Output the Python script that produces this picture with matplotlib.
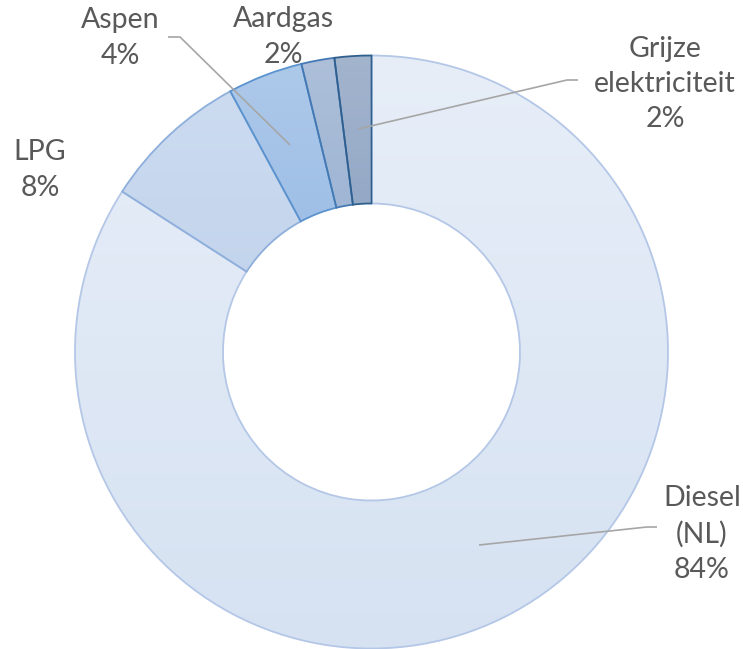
import numpy as np
import matplotlib
matplotlib.use("Agg")
import matplotlib.pyplot as plt
from matplotlib.colors import to_rgb

# aandeel per energiedrager (clockwise vanaf 12 uur)
bronnen = ["Diesel\n(NL)", "LPG", "Aspen", "Aardgas", "Grijze\nelektriciteit"]
aandeel = [84.1, 8.0, 4.1, 1.8, 2.0]
pct_labels = ["84%", "8%", "4%", "2%", "2%"]

# kleuren: boven, onder, rand
KLEUR_BOVEN = ["#E7EEF8", "#CCDBF0", "#ADC9EA", "#ADBFD9", "#A3B4CD"]
KLEUR_ONDER = ["#D6E2F2", "#BFD2EB", "#94B7E3", "#93ADD0", "#869EC0"]
KLEUR_RAND = ["#B4C7E7", "#8EAFDB", "#5B93CF", "#4479B3", "#2F5F8F"]

W, H = 743, 649
fig = plt.figure(figsize=(W / 100, H / 100), dpi=100)
ax = fig.add_axes([0, 0, 1, 1])

cx, cy = 371.5, H - 352
R = 296.5
wedges, _ = ax.pie(aandeel, radius=R, center=(cx, cy), startangle=90,
                   counterclock=False,
                   wedgeprops=dict(width=148, linewidth=1.3))

for w, top, bot, rand in zip(wedges, KLEUR_BOVEN, KLEUR_ONDER, KLEUR_RAND):
    v = w.get_path().vertices
    x0, x1 = v[:, 0].min(), v[:, 0].max()
    y0, y1 = v[:, 1].min(), v[:, 1].max()
    t = np.linspace(0, 1, 256)[:, None, None]
    grad = (1 - t) * np.array(to_rgb(bot)) + t * np.array(to_rgb(top))
    im = ax.imshow(grad, extent=(x0, x1, y0, y1), origin="lower",
                   aspect="auto", zorder=1, interpolation="bilinear")
    im.set_clip_path(w)
    w.set_facecolor("none")
    w.set_edgecolor(rand)
    w.set_zorder(2)

# leader lines (pixelcoordinaten)
lijnen = [
    [(168, 37), (180, 37), (290, 145)],
    [(578, 80), (567, 80), (358, 129)],
    [(657, 527), (647, 527), (479, 545)],
]
for pts in lijnen:
    xs = [p[0] for p in pts]
    ys = [H - p[1] for p in pts]
    ax.plot(xs, ys, color="#A6A6A6", lw=1.2, zorder=3, solid_capstyle="butt")

# labelposities (midden van tekstblok, pixels)
posities = [(702, 534), (40, 170), (120, 38), (283, 37), (665, 84)]
for naam, pct, (x, y) in zip(bronnen, pct_labels, posities):
    ax.text(x, H - y, naam + "\n" + pct, ha="center", va="center",
            fontsize=20.5, color="#595959", family="Lato", linespacing=1.45,
            zorder=4)

ax.set_xlim(0, W)
ax.set_ylim(0, H)
ax.set_aspect("equal")
ax.axis("off")

fig.savefig("out.png", dpi=100)
